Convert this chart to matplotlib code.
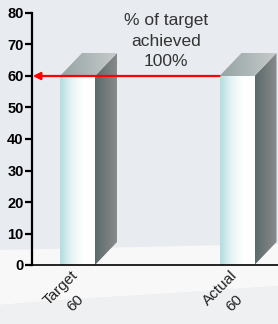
import numpy as np
import matplotlib
matplotlib.use("Agg")
import matplotlib.pyplot as plt
import matplotlib.transforms as mtransforms
from matplotlib.patches import Polygon
from matplotlib.colors import LinearSegmentedColormap

categories = ["Target\n60", "Actual\n60"]
values = [60, 60]
yticks = [0, 10, 20, 30, 40, 50, 60, 70, 80]
annotation = "% of target\nachieved\n100%"

plt.rcParams['font.family'] = ['Liberation Sans', 'DejaVu Sans']

W, H = 278, 324
fig = plt.figure(figsize=(W / 100, H / 100), dpi=100)
fig.patch.set_facecolor('#e8ebf0')

# background (pixel coords)
bg = fig.add_axes([0, 0, 1, 1], zorder=0)
bg.set_xlim(0, W)
bg.set_ylim(H, 0)
bg.axis('off')
bg.add_patch(Polygon([[0, 250], [W, 244], [W, 286], [160, 294], [60, 300], [0, 305]],
                     closed=True, facecolor='#f8f8f9', edgecolor='none'))
bg.add_patch(Polygon([[0, 305], [60, 300], [160, 294], [W, 286], [W, H], [0, H]],
                     closed=True, facecolor='#eff0f2', edgecolor='none'))

ax = fig.add_axes([32 / W, (H - 265) / H, (W - 32) / W, (265 - 13) / H], zorder=1)
ax.patch.set_alpha(0)
x = np.arange(len(categories))
unit = 159.5
ax.set_xlim(-45.5 / unit, 1 + (246 - 205) / unit)
ax.set_ylim(0, 80)

bw = 35 / unit
dx = 22 / unit
dy = 23 / (252 / 80)

front_cmap = LinearSegmentedColormap.from_list('f', ['#b3dcdf', '#e6f4f5', '#ffffff', '#ffffff'])
side_cmap = LinearSegmentedColormap.from_list('s', ['#5b6b6c', '#8a8a8a'])
top_cmap = LinearSegmentedColormap.from_list('t', ['#95a4a4', '#c7caca'])
grad = np.linspace(0, 1, 256).reshape(1, -1)

def grad_poly(pts, cmap, extent):
    poly = Polygon(pts, closed=True, facecolor='none', edgecolor='none')
    ax.add_patch(poly)
    im = ax.imshow(grad, cmap=cmap, aspect='auto', extent=extent, zorder=2,
                   interpolation='bilinear')
    im.set_clip_path(poly)

for xi, v in zip(x, values):
    l, r = xi - bw / 2, xi + bw / 2
    grad_poly([[l, 0], [r, 0], [r, v], [l, v]], front_cmap, (l, r, 0, v))
    grad_poly([[r, 0], [r + dx, dy], [r + dx, v + dy], [r, v]], side_cmap,
              (r, r + dx, 0, v + dy))
    grad_poly([[l, v], [r, v], [r + dx, v + dy], [l + dx, v + dy]], top_cmap,
              (l, r + dx, v, v + dy))

ax.set_xlim(-45.5 / unit, 1 + (246 - 205) / unit)
ax.set_ylim(0, 80)

# red arrow from actual bar to axis
ax.annotate('', xy=(ax.get_xlim()[0] + 0.005, values[0]), xytext=(x[1] - bw / 2, values[1]),
            arrowprops=dict(arrowstyle='-|>', color='#ff0000', lw=1.6,
                            mutation_scale=11, shrinkA=0, shrinkB=0), zorder=5)

ax.text(166 / W, 1 - 41 / H, annotation, transform=fig.transFigure, ha='center', va='center',
        fontsize=12.5, color='#333333', linespacing=1.45)

for s in ['top', 'right']:
    ax.spines[s].set_visible(False)
ax.spines['left'].set_linewidth(1.6)
ax.spines['bottom'].set_linewidth(1.2)
ax.set_yticks(yticks)
ax.set_yticklabels([str(t) for t in yticks], fontsize=10.5, fontweight='bold')
ax.tick_params(axis='y', length=5, width=1.6, pad=1)
ax.set_xticks(x)
ax.set_xticklabels(categories, rotation=45, ha='right', va='top', rotation_mode='anchor',
                   fontsize=11, color='#222222', multialignment='center', linespacing=1.6)
ax.tick_params(axis='x', length=0, pad=1)
shift = mtransforms.ScaledTranslation(-7 / 100, -2 / 100, fig.dpi_scale_trans)
for lab in ax.get_xticklabels():
    lab.set_transform(lab.get_transform() + shift)

fig.savefig('out.png', dpi=100, facecolor=fig.get_facecolor())
